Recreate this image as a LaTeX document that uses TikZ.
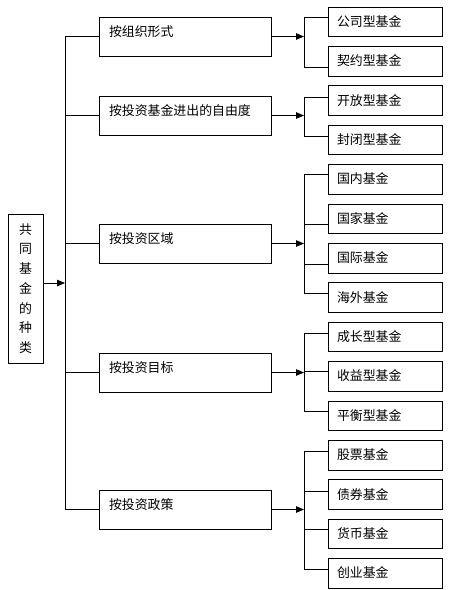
\documentclass[tikz,border=0pt]{standalone}
\usepackage{fontspec}
\setmainfont{Noto Sans CJK SC}
\usetikzlibrary{arrows.meta}
\begin{document}
\begin{tikzpicture}[x=1pt,y=-1pt,line width=0.8pt,
  txt/.style={font=\fontsize{12.9}{15}\selectfont},
  rootbox/.style={draw,inner sep=0pt,minimum width=35pt,minimum height=149pt,align=center,
    font=\fontsize{12.9}{19.7}\selectfont},
  midbox/.style={draw,txt,inner xsep=10pt,inner ysep=0pt,text width=152pt,minimum height=39pt,
    align=left,text height=10pt,text depth=10pt},
  leafbox/.style={draw,txt,inner xsep=9pt,inner ysep=0pt,text width=96pt,minimum height=29.5pt,
    align=left,text height=10.5pt,text depth=1.5pt},
  arr/.style={-{Triangle[length=8pt,width=6.5pt]}}]
\useasboundingbox (0,0) rectangle (455,590);

% root
\node[rootbox] (L) at (25.5,288.5) {共\\同\\基\\金\\的\\种\\类};

% middle level
\node[midbox] (M1) at (185,36.5) {按组织形式};
\node[midbox] (M2) at (185,115.5) {按投资基金进出的自由度};
\node[midbox] (M3) at (185,243.5) {按投资区域};
\node[midbox] (M4) at (185,372.5) {按投资目标};
\node[midbox] (M5) at (185,509.5) {按投资政策};

% leaves
\node[leafbox] (R1) at (385,21.75) {公司型基金};
\node[leafbox] (R2) at (385,61.15) {契约型基金};
\node[leafbox] (R3) at (385,100.55) {开放型基金};
\node[leafbox] (R4) at (385,139.95) {封闭型基金};
\node[leafbox] (R5) at (385,179.35) {国内基金};
\node[leafbox] (R6) at (385,218.75) {国家基金};
\node[leafbox] (R7) at (385,258.15) {国际基金};
\node[leafbox] (R8) at (385,297.55) {海外基金};
\node[leafbox] (R9) at (385,336.95) {成长型基金};
\node[leafbox] (R10) at (385,376.35) {收益型基金};
\node[leafbox] (R11) at (385,415.75) {平衡型基金};
\node[leafbox] (R12) at (385,455.15) {股票基金};
\node[leafbox] (R13) at (385,494.55) {债券基金};
\node[leafbox] (R14) at (385,533.95) {货币基金};
\node[leafbox] (R15) at (385,573.35) {创业基金};

% trunk on the left
\coordinate (T) at (65,283);
\draw[arr] (L.east |- T) -- (T);
\draw (M1.west) -- (M1.west -| T) -- (M5.west -| T) -- (M5.west);
\draw (M2.west) -- (M2.west -| T);
\draw (M3.west) -- (M3.west -| T);
\draw (M4.west) -- (M4.west -| T);

% branch points
\coordinate (B) at (304,0);
\foreach \m in {1,...,5}{
  \draw[arr] (M\m.east) -- (M\m.east -| B);
}

% hit points of leaf connectors
\coordinate (h1) at (304,17.7);
\coordinate (h2) at (304,67);
\coordinate (h3) at (304,97);
\coordinate (h4) at (304,136);
\coordinate (h5) at (304,174);
\coordinate (h6) at (304,224);
\coordinate (h7) at (304,264);
\coordinate (h8) at (304,293);
\coordinate (h9) at (304,333);
\coordinate (h10) at (304,371);
\coordinate (h11) at (304,411);
\coordinate (h12) at (304,451);
\coordinate (h13) at (304,491);
\coordinate (h14) at (304,529);
\coordinate (h15) at (304,569);

\foreach \i in {1,...,15}{
  \draw (h\i) -- (h\i -| R\i.west);
}
\draw (h1) -- (h2);
\draw (h3) -- (h4);
\draw (h5) -- (h8);
\draw (h9) -- (h11);
\draw (h12) -- (h15);
\end{tikzpicture}
\end{document}
